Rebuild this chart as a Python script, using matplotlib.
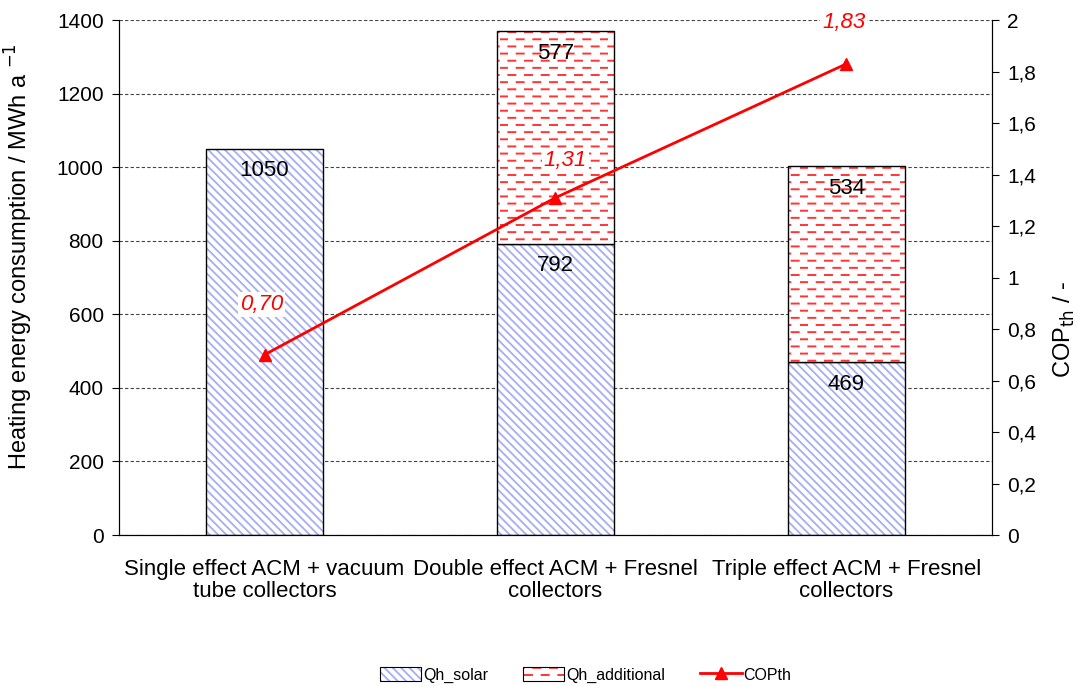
import matplotlib
matplotlib.use("Agg")
import matplotlib.pyplot as plt
import matplotlib.hatch as mhatch
import matplotlib.colors as mcolors
from matplotlib.path import Path
from matplotlib.patches import Patch
from matplotlib.lines import Line2D
from matplotlib.ticker import FuncFormatter

categories = ["Single effect ACM + vacuum\ntube collectors",
              "Double effect ACM + Fresnel\ncollectors",
              "Triple effect ACM + Fresnel\ncollectors"]
qh_solar = [1050, 792, 469]
qh_additional = [0, 577, 534]
cop_th = [0.70, 1.31, 1.83]


class DashedRows(mhatch.HatchPatternBase):
    """Staggered short dashes instead of the plain horizontal hatch."""
    def __init__(self, hatch, density):
        n = hatch.count('-')
        self.rows = 14 * n
        self.cols = 6
        self.num_vertices = self.rows * self.cols * 2

    def set_vertices_and_codes(self, vertices, codes):
        k = 0
        for r in range(self.rows):
            y = (r + 0.5) / self.rows
            shift = 0.5 / self.cols if r % 2 else 0.0
            for c in range(self.cols):
                x0 = c / self.cols + shift
                vertices[k] = (x0, y)
                vertices[k + 1] = (x0 + 0.42 / self.cols, y)
                codes[k] = Path.MOVETO
                codes[k + 1] = Path.LINETO
                k += 2


mhatch._hatch_types = [DashedRows if t is mhatch.HorizontalHatch else t
                       for t in mhatch._hatch_types]

plt.rcParams['font.family'] = ['Liberation Sans', 'DejaVu Sans']

SOLAR_HATCH = '#a7adf2'
ADD_HATCH = '#ff3535'


def style_patch(p, hcolor, hlw):
    p._hatch_color = mcolors.to_rgba(hcolor)
    if hasattr(p, 'set_hatch_linewidth'):
        p.set_hatch_linewidth(hlw)


fig = plt.figure(figsize=(10.78, 6.86), dpi=100)
ax = fig.add_axes([0.1104, 0.2201, 0.8098, 0.7507])
x = list(range(len(categories)))
width = 0.405

b1 = ax.bar(x, qh_solar, width, color='white', edgecolor='black',
            linewidth=1.0, hatch='\\\\\\\\', zorder=2)
b2 = ax.bar(x, qh_additional, width, bottom=qh_solar, color='white',
            edgecolor='black', linewidth=1.0, hatch='-', zorder=2)
for p in b1:
    style_patch(p, SOLAR_HATCH, 1.3)
for p, v in zip(b2, qh_additional):
    style_patch(p, ADD_HATCH, 1.4)
    if v == 0:
        p.set_visible(False)

# value labels inside each segment, near its top
for i in x:
    ax.annotate(f"{qh_solar[i]}", (i, qh_solar[i]), xytext=(0, -16),
                textcoords='offset points', ha='center', va='center',
                fontsize=16, zorder=3)
    if qh_additional[i]:
        top = qh_solar[i] + qh_additional[i]
        ax.annotate(f"{qh_additional[i]}", (i, top), xytext=(0, -16),
                    textcoords='offset points', ha='center', va='center',
                    fontsize=16, zorder=3)

ax.set_xlim(-0.5, 2.5)
ax.set_ylim(0, 1400)
ax.set_yticks(range(0, 1401, 200))
ax.set_xticks(x)
ax.set_xticklabels(categories, fontsize=16, linespacing=1.1)
ax.tick_params(axis='x', length=0, pad=17)
ax.tick_params(axis='y', labelsize=15, direction='out', length=5, pad=6)
ax.yaxis.grid(True, linestyle=(0, (3, 2)), color='#444444', linewidth=0.8)
ax.set_axisbelow(True)
ax.spines['top'].set_visible(False)
ax.set_ylabel("Heating energy consumption / MWh a $^{-1}$", fontsize=17)
ax.yaxis.set_label_coords(-0.096, 0.54)

ax2 = ax.twinx()
ax2.set_ylim(0, 2)
ax2.set_yticks([i / 5 for i in range(11)])
ax2.yaxis.set_major_formatter(FuncFormatter(lambda v, _: f"{v:g}".replace('.', ',')))
ax2.tick_params(axis='y', labelsize=15, direction='out', length=5, pad=6)
ax2.spines['top'].set_visible(False)
ax2.set_ylabel("COP$_{\\mathrm{th}}$ / -", fontsize=17)
ax2.yaxis.set_label_coords(1.069, 0.40)
ax2.plot(x, cop_th, color='red', linewidth=2, marker='^', markersize=9, zorder=4)

label_offsets = [(-2, 36), (7, 27), (-2, 30)]
for i, v in enumerate(cop_th):
    ax2.annotate(f"{v:.2f}".replace('.', ','), (i, v), xytext=label_offsets[i],
                 textcoords='offset points', ha='center', va='center',
                 color='red', style='italic', fontsize=16,
                 bbox=dict(facecolor='white', edgecolor='none', pad=1.5))

h1 = Patch(facecolor='white', edgecolor='black', linewidth=0.8, hatch='\\\\\\\\')
h2 = Patch(facecolor='white', edgecolor='black', linewidth=0.8, hatch='-')
h3 = Line2D([], [], color='red', linewidth=2, marker='^', markersize=8)
leg = fig.legend([h1, h2, h3], ["Qh_solar", "Qh_additional", "COPth"],
                 loc='center', bbox_to_anchor=(0.543, 0.016), ncol=3,
                 frameon=False, fontsize=11.5, handlelength=2.6,
                 handleheight=0.9, columnspacing=2.2, handletextpad=0.1)
for p, c, lw in zip(leg.get_patches(), [SOLAR_HATCH, ADD_HATCH], [1.3, 1.4]):
    style_patch(p, c, lw)

fig.savefig("out.png", dpi=100)
